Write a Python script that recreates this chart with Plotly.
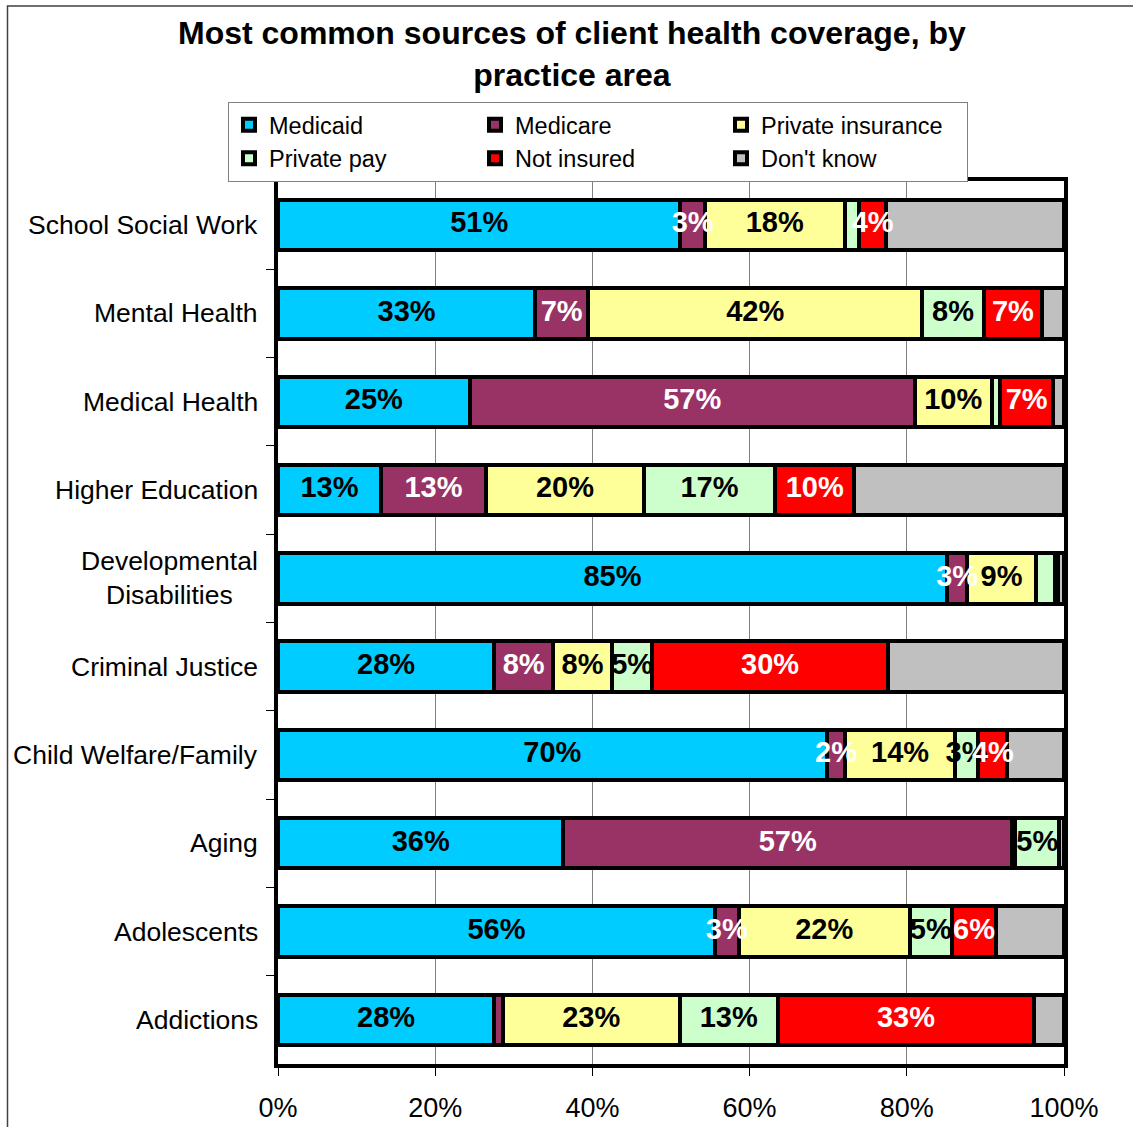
import numpy as np
import plotly.graph_objects as go

# practice areas, top to bottom
categories = ["School Social Work", "Mental Health", "Medical Health", "Higher Education",
              "Developmental<br>Disabilities", "Criminal Justice", "Child Welfare/Family",
              "Aging", "Adolescents", "Addictions"]

# share of clients (%) per coverage source
medicaid = [51.2, 32.7, 24.4, 13.1, 85.1, 27.5, 69.8, 36.3, 55.6, 27.5]
medicare = [3.1, 6.7, 56.6, 13.4, 2.6, 7.5, 2.4, 57.1, 3.0, 1.1]
private_ins = [17.8, 42.5, 9.8, 20.1, 8.7, 7.5, 13.9, 0.4, 21.8, 22.5]
private_pay = [1.8, 7.8, 1.1, 16.7, 2.4, 5.1, 3.0, 5.6, 5.3, 12.5]
not_insured = [3.5, 7.4, 6.7, 10.1, 0.4, 30.0, 3.7, 0.0, 5.7, 32.6]
dont_know = [22.6, 2.8, 1.4, 26.7, 0.8, 22.4, 7.2, 0.6, 8.6, 3.8]

# data labels as printed on the chart ("" = no label)
medicaid_lbl = ["51%", "33%", "25%", "13%", "85%", "28%", "70%", "36%", "56%", "28%"]
medicare_lbl = ["3%", "7%", "57%", "13%", "3%", "8%", "2%", "57%", "3%", ""]
private_ins_lbl = ["18%", "42%", "10%", "20%", "9%", "8%", "14%", "", "22%", "23%"]
private_pay_lbl = ["", "8%", "", "17%", "", "5%", "3%", "5%", "5%", "13%"]
not_insured_lbl = ["4%", "7%", "7%", "10%", "", "30%", "4%", "", "6%", "33%"]
dont_know_lbl = [""] * 10

series = [
    ("Medicaid", medicaid, medicaid_lbl, "#00CCFF", "black"),
    ("Medicare", medicare, medicare_lbl, "#993366", "white"),
    ("Private insurance", private_ins, private_ins_lbl, "#FFFF99", "black"),
    ("Private pay", private_pay, private_pay_lbl, "#CCFFCC", "black"),
    ("Not insured", not_insured, not_insured_lbl, "#FF0000", "white"),
    ("Don't know", dont_know, dont_know_lbl, "#C0C0C0", "black"),
]

FONT = "Liberation Sans, Arial, sans-serif"

fig = go.Figure()
for name, vals, lbls, color, tcolor in series:
    fig.add_trace(go.Bar(
        y=categories, x=vals, name=name, orientation="h",
        marker=dict(color=color, line=dict(color="black", width=4)),
        hoverinfo="skip",
    ))

# data labels centred on each segment (labels may spill over narrow segments)
all_vals = np.array([s[1] for s in series])
totals = all_vals.sum(axis=0)
left = np.zeros(len(categories))
for name, vals, lbls, color, tcolor in series:
    v = np.array(vals)
    mid = (left + v / 2) / totals * 100
    left = left + v
    fig.add_trace(go.Scatter(
        x=mid, y=categories, mode="text", text=lbls, textposition="middle center",
        textfont=dict(family=FONT, size=29, color=tcolor, weight="bold"),
        showlegend=False, hoverinfo="skip", cliponaxis=False,
    ))

# category labels (centered multi-line, right-aligned block)
for cat in categories:
    fig.add_annotation(x=0, xref="paper", y=cat, yref="y", text=cat,
                       xanchor="right", xshift=-18, align="center",
                       showarrow=False, font=dict(family=FONT, size=26.5, color="black"))

# title
fig.add_annotation(x=(572 - 278) / 786, xref="paper", y=1 + (181 - 13) / 883, yref="paper",
                   xanchor="center", yanchor="top", align="center", showarrow=False,
                   text="Most common sources of client health coverage, by<br>practice area",
                   font=dict(family=FONT, size=32, color="black", weight="bold"))

# outer chart border (right and bottom edges fall outside the picture)
fig.add_shape(type="rect", xref="paper", yref="paper",
              x0=(7.5 - 278) / 786, x1=(1145 - 278) / 786,
              y0=(1064 - 1145) / 883, y1=1 + (181 - 6) / 883,
              line=dict(color="#404040", width=1.5), layer="below")

fig.update_layout(
    width=1133, height=1127,
    margin=dict(l=278, r=69, t=181, b=63, autoexpand=False),
    barmode="stack", barnorm="percent", bargap=0.43,
    paper_bgcolor="white", plot_bgcolor="white",
    font=dict(family=FONT, color="black"),
    legend=dict(orientation="h", x=(968 - 278) / 786, xanchor="right",
                y=1 + (181 - 102) / 883, yanchor="top",
                entrywidth=201, itemwidth=30, traceorder="normal",
                bordercolor="#808080", borderwidth=1,
                font=dict(family=FONT, size=23.5, color="black")),
    showlegend=True,
)

fig.update_xaxes(range=[0, 100], dtick=20, ticksuffix="%", automargin=False,
                 showgrid=True, gridcolor="#808080", gridwidth=1,
                 ticks="outside", ticklen=8, tickcolor="black",
                 showline=True, linecolor="black", linewidth=4, mirror=True,
                 tickfont=dict(family=FONT, size=27, color="black"),
                 ticklabelstandoff=9, zeroline=False)
fig.update_yaxes(autorange="reversed", showticklabels=False, automargin=False,
                 tickson="boundaries", ticks="outside", ticklen=8, tickcolor="black",
                 showgrid=False,
                 showline=True, linecolor="black", linewidth=4, mirror=True)

fig.write_html("out.html", config={"displayModeBar": False},
               post_script="document.body.style.margin = '0';")
